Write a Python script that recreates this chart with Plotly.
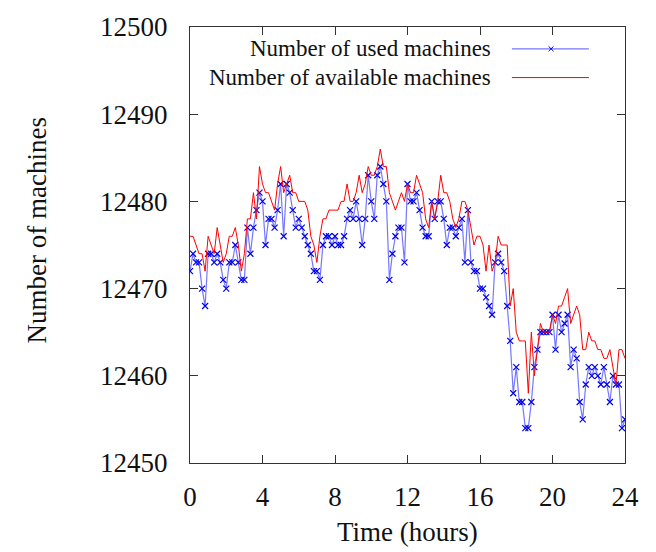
import plotly.graph_objects as go

# 10-minute samples over 24 hours
step_minutes = 10
n_samples = 145
hours = [i * step_minutes / 60 for i in range(n_samples)]

available = [
    12476, 12476, 12475, 12474, 12474, 12472, 12476, 12475, 12474, 12477, 12475, 12473, 12474, 12476, 12476, 12477, 12475, 12472, 12474, 12478, 12478, 12481, 12478, 12484, 12482,
    12481, 12481, 12480, 12479, 12482, 12484, 12481, 12482, 12483, 12481, 12481, 12480, 12480, 12480, 12479, 12476, 12475, 12473, 12476, 12478, 12478, 12479, 12479, 12479,
    12479, 12480, 12480, 12482, 12480, 12480, 12481, 12483, 12481, 12482, 12484, 12483, 12483, 12484, 12486, 12484, 12484, 12481, 12480, 12479, 12480, 12481, 12480, 12482,
    12481, 12481, 12483, 12482, 12481, 12478, 12477, 12480, 12478, 12480, 12483, 12481, 12481, 12480, 12478, 12477, 12478, 12480, 12480, 12479, 12477, 12475, 12476, 12476,
    12475, 12472, 12475, 12472, 12473, 12476, 12475, 12475, 12475, 12468, 12470, 12465, 12464, 12464, 12464, 12458, 12465, 12460, 12463, 12466, 12465, 12465, 12465, 12467,
    12466, 12468, 12468, 12469, 12470, 12466, 12467, 12468, 12467, 12463, 12463, 12465, 12464, 12464, 12463, 12463, 12462, 12462, 12463, 12461, 12459, 12463, 12463, 12462,
]

used = [
    12472, 12474, 12473, 12473, 12470, 12468, 12474, 12474, 12473, 12474, 12473, 12471, 12470, 12473, 12473, 12475, 12473, 12471, 12471, 12477, 12474, 12477, 12479, 12481, 12480,
    12475, 12478, 12478, 12477, 12479, 12482, 12476, 12482, 12481, 12479, 12477, 12478, 12477, 12476, 12475, 12474, 12472, 12472, 12471, 12475, 12476, 12476, 12475, 12476,
    12475, 12475, 12476, 12478, 12479, 12478, 12480, 12478, 12475, 12478, 12483, 12480, 12478, 12483, 12484, 12482, 12480, 12471, 12474, 12476, 12477, 12477, 12473, 12482,
    12480, 12480, 12481, 12479, 12477, 12476, 12476, 12480, 12478, 12480, 12480, 12478, 12475, 12477, 12477, 12476, 12477, 12478, 12473, 12479, 12473, 12472, 12472, 12470,
    12470, 12469, 12468, 12467, 12473, 12474, 12473, 12472, 12468, 12464, 12458, 12461, 12457, 12457, 12454, 12454, 12457, 12461, 12463, 12465, 12465, 12465, 12465, 12467,
    12463, 12467, 12465, 12466, 12467, 12461, 12463, 12462, 12457, 12455, 12459, 12461, 12460, 12461, 12460, 12459, 12461, 12459, 12457, 12460, 12459, 12459, 12454, 12455,
]

x_ticks = [0, 4, 8, 12, 16, 20, 24]
y_ticks = [12450, 12460, 12470, 12480, 12490, 12500]
legend_labels = ["Number of used machines", "Number of available machines"]

FONT = "Liberation Serif, Times New Roman, serif"
BLUE_LINE = "rgba(60,60,255,0.7)"
BLUE_MARK = "#0000ee"
RED = "#ff0000"

fig = go.Figure()
fig.add_trace(go.Scatter(
    x=hours, y=used, mode="lines+markers", name=legend_labels[0],
    line=dict(color=BLUE_LINE, width=1.2),
    marker=dict(symbol="x-thin", size=6, line=dict(color=BLUE_MARK, width=1.2)),
    showlegend=False,
))
fig.add_trace(go.Scatter(
    x=hours, y=available, mode="lines", name=legend_labels[1],
    line=dict(color=RED, width=1),
    showlegend=False,
))

axis_common = dict(
    showline=True, linecolor="#333333", linewidth=1, mirror="ticks",
    ticks="inside", ticklen=8, tickcolor="#333333", tickwidth=1,
    showgrid=False, zeroline=False,
    tickfont=dict(family=FONT, size=27, color="#111111"),
)
fig.update_xaxes(range=[0, 24], tickvals=x_ticks, ticktext=[str(v) for v in x_ticks],
                 ticklabelstandoff=10, **axis_common)
fig.update_yaxes(range=[12450, 12500], tickvals=y_ticks, ticktext=[str(v) for v in y_ticks],
                 ticklabelstandoff=16, **axis_common)

# custom legend (text on the left, sample on the right)
leg_y = [0.950, 0.884]
text_x = 0.6966
line_x0, line_x1 = 0.740, 0.917
mark_x = 0.830
for lab, yy in zip(legend_labels, leg_y):
    fig.add_annotation(x=text_x, y=yy, xref="paper", yref="paper", text=lab,
                       showarrow=False, xanchor="right", yanchor="middle",
                       font=dict(family=FONT, size=23, color="#111111"))
fig.add_shape(type="line", xref="paper", yref="paper", x0=line_x0, x1=line_x1,
              y0=leg_y[0], y1=leg_y[0], line=dict(color=BLUE_LINE, width=1.2))
fig.add_shape(type="line", xref="paper", yref="paper", x0=line_x0, x1=line_x1,
              y0=leg_y[1], y1=leg_y[1], line=dict(color=RED, width=1))
dx, dy = 2.5 / 435, 2.5 / 441
fig.add_shape(type="path", xref="paper", yref="paper",
              path=f"M {mark_x-dx} {leg_y[0]-dy} L {mark_x+dx} {leg_y[0]+dy} M {mark_x-dx} {leg_y[0]+dy} L {mark_x+dx} {leg_y[0]-dy}",
              line=dict(color=BLUE_MARK, width=1))

# axis titles
fig.add_annotation(x=0.5, y=-0.159, xref="paper", yref="paper", text="Time (hours)",
                   showarrow=False, xanchor="center", yanchor="middle",
                   font=dict(family=FONT, size=27, color="#111111"))
fig.add_annotation(x=-0.352, y=0.533, xref="paper", yref="paper", text="Number of machines",
                   showarrow=False, xanchor="center", yanchor="middle", textangle=-90,
                   font=dict(family=FONT, size=27, color="#111111"))

fig.update_layout(
    width=656, height=552,
    margin=dict(l=190, r=31, t=22, b=89),
    paper_bgcolor="white", plot_bgcolor="white",
    showlegend=False,
)

fig.write_html("out.html")
